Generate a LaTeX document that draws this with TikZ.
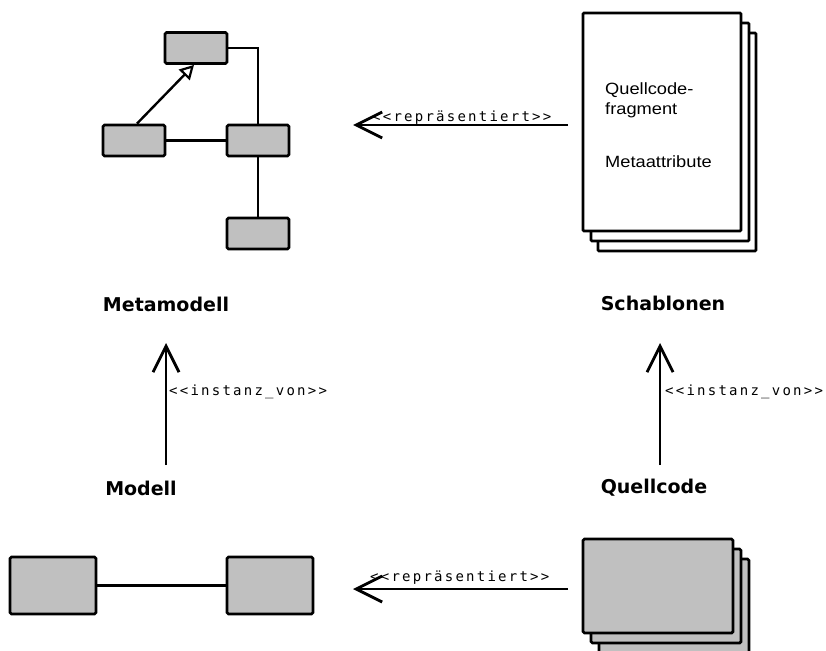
\documentclass[tikz,border=0pt]{standalone}
\usepackage{fontspec}
\setmainfont{Liberation Sans}
\newfontfamily\labelfont{DejaVu Sans}
\newfontfamily\notefont{Liberation Sans}[FakeStretch=1.12]
\newfontfamily\stereofont{DejaVu Sans Mono}[LetterSpace=16]
\usetikzlibrary{arrows.meta}
\definecolor{boxgray}{RGB}{192,192,192}
\tikzset{
  cls/.style={draw, fill=boxgray, line width=2.8pt, rounded corners=1.5pt,
    inner sep=0pt, minimum width=62pt, minimum height=31pt},
  bigcls/.style={cls, minimum width=86pt, minimum height=57pt},
  page/.style={draw, fill=white, line width=2.8pt, rounded corners=1pt,
    inner sep=0pt, minimum width=158pt, minimum height=218pt},
  codepage/.style={cls, minimum width=150pt, minimum height=94pt},
  assoc/.style={line width=2.2pt},
  inherit/.style={line width=2.4pt, -{Triangle[open, length=14pt, width=15pt, line width=2.2pt]}},
  relarrow/.style={line width=2.8pt, -{Straight Barb[length=26pt, width=26pt, line width=2.8pt]}},
  title/.style={font=\labelfont\bfseries\fontsize{19}{22}\selectfont, inner sep=0pt},
  note/.style={font=\notefont\fontsize{16.3}{20}\selectfont, inner sep=0pt, anchor=base west},
  stereo/.style={font=\stereofont\fontsize{14}{16}\selectfont, inner sep=0pt, anchor=west},
}
\begin{document}
\begin{tikzpicture}[x=1pt, y=-1pt]
\useasboundingbox (0,0) rectangle (826,650);

% --- metamodel: four classes ---
\node[cls] (mTop) at (196,48) {};
\node[cls] (mLeft) at (134,140.5) {};
\node[cls] (mMid) at (258,140.5) {};
\node[cls] (mBot) at (258,233.5) {};
\draw[assoc] (mTop.east) -| (mMid.north);
\draw[assoc] (mLeft) -- (mMid);
\draw[assoc] (mMid) -- (mBot);
\draw[inherit] ([xshift=3pt]mLeft.north) -- ([xshift=-2pt]mTop.south);

% --- templates: stacked pages ---
\node[page] (t3) at (677,142) {};
\node[page] (t2) at (670,132) {};
\node[page] (t1) at (662,122) {};
\node[note] (q1) at (605,95) {Quellcode-};
\node[note] (q2) at (605,114) {fragment};
\node[note] (q3) at (605,167) {Metaattribute};

% --- model: two classes ---
\node[bigcls] (mdA) at (53,585.5) {};
\node[bigcls] (mdB) at (270,585.5) {};
\draw[assoc] (mdA) -- (mdB);

% --- source code: stacked blocks ---
\node[codepage] (c3) at (674,606) {};
\node[codepage] (c2) at (666,596) {};
\node[codepage] (c1) at (658,586) {};

% --- titles ---
\node[title] (lMeta) at (166,304) {Metamodell};
\node[title] (lSchab) at (663,303) {Schablonen};
\node[title] (lModell) at (141,488) {Modell};
\node[title] (lQuell) at (654,488) {Quellcode};

% --- relations ---
\coordinate (r1s) at (568,125);
\coordinate (r1e) at (353,125);
\draw[relarrow] (r1s) -- (r1e);
\node[stereo] (r1l) at (372,118) {<<repräsentiert>>};

\coordinate (r2s) at (568,589);
\coordinate (r2e) at (353,589);
\draw[relarrow] (r2s) -- (r2e);
\node[stereo] (r2l) at (370,578) {<<repräsentiert>>};

\coordinate (i1s) at (166,465);
\coordinate (i1e) at (166,343);
\draw[relarrow] (i1s) -- (i1e);
\node[stereo] (i1l) at (169,392) {<<instanz\_von>>};

\coordinate (i2s) at (660,465);
\coordinate (i2e) at (660,343);
\draw[relarrow] (i2s) -- (i2e);
\node[stereo] (i2l) at (665,392) {<<instanz\_von>>};
\end{tikzpicture}
\end{document}
